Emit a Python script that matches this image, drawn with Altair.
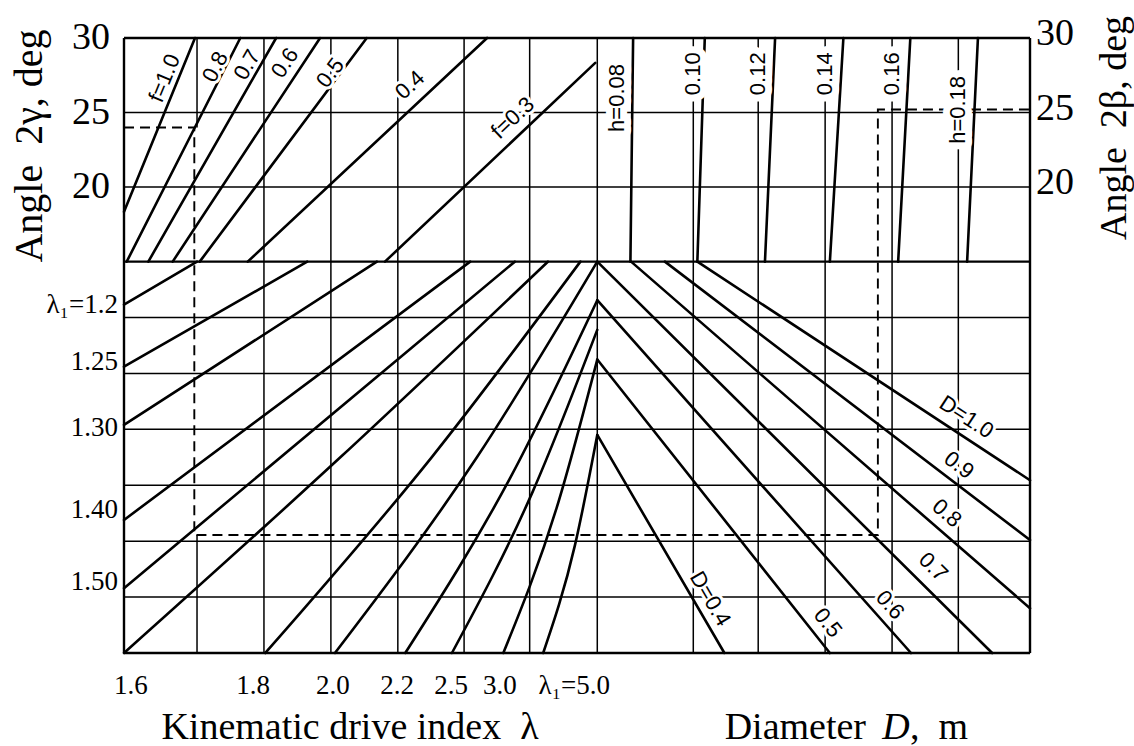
import math
import altair as alt
import pandas as pd

# ---------------------------------------------------------------
# Nomogram laid out in grid units: x = column, y = row.
# Lower block: rows 0..7.  Upper block: angles 15..30 deg on rows 7..11.
# ---------------------------------------------------------------
PLOT_W, PLOT_H = 906, 615
X_MAX, Y_MAX = 13.4, 11.0
SPLIT = 7.0
ANG_LO, ANG_HI = 15.0, 30.0
SX, SY = PLOT_W / X_MAX, PLOT_H / Y_MAX
NB = "\u00a0"  # keeps the wide gaps inside titles


def row(deg):
    """Angle (deg) of the upper block -> grid row."""
    return SPLIT + (deg - ANG_LO) * (Y_MAX - SPLIT) / (ANG_HI - ANG_LO)


# ---- grid ----
lower_rows = [1, 2, 3, 4, 5, 6]
angle_rows = [20, 25]
angle_ticks = [20, 25, 30]
first_col = 1.08
cols = [2.07, 3.06, 4.05, 5.03, 6.0, 7.0, 8.42, 9.38, 10.37, 11.36, 12.34]

# ---- f lines (upper-left): column / angle at upper and lower end ----
f_top_x = [1.05, 1.72, 2.25, 2.90, 3.59, 5.37, 6.97]
f_top_deg = [30, 30, 30, 30, 30, 30, 28.33]
f_bot_x = [0.0, 0.04, 0.36, 0.72, 1.12, 1.83, 3.86]
f_bot_deg = [18.35, 15, 15, 15, 15, 15, 15]
f_text = ["f=1.0", "0.8", "0.7", "0.6", "0.5", "0.4", "f=0.3"]
f_text_x = [0.6, 1.35, 1.82, 2.38, 3.05, 4.23, 5.75]
f_text_deg = [27.3, 28.06, 28.2, 28.33, 27.66, 26.85, 24.64]

# ---- h lines (upper-right) ----
h_top_x = [7.53, 8.59, 9.63, 10.64, 11.63, 12.63]
h_bot_x = [7.49, 8.48, 9.48, 10.44, 11.45, 12.47]
h_text = ["h=0.08", "0.10", "0.12", "0.14", "0.16", "h=0.18"]
h_text_x = [7.29, 8.42, 9.38, 10.37, 11.36, 12.34]
h_text_deg = [25.98, 27.6, 27.6, 27.6, 27.6, 25.18]

# ---- D lines (lower-right) ----
D_x0 = [8.48, 8.0, 7.5, 7.0, 7.0, 7.0, 7.0]
D_y0 = [7.0, 7.0, 7.0, 7.0, 6.31, 5.25, 3.9]
D_x1 = [13.4, 13.4, 13.4, 12.84, 11.64, 10.44, 8.88]
D_y1 = [3.09, 2.02, 0.8, 0, 0, 0, 0]
D_text = ["D=1.0", "0.9", "0.8", "0.7", "0.6", "0.5", "D=0.4"]
D_text_x = [12.46, 12.35, 12.17, 11.97, 11.33, 10.41, 8.67]
D_text_y = [4.22, 3.36, 2.5, 1.54, 0.86, 0.54, 0.97]

# ---- lambda curves (lower-left) ----
lam_x0 = [0, 0, 0, 0, 0, 0, 2.09, 3.12, 4.16, 4.85, 5.61, 6.2]
lam_y0 = [6.23, 5.12, 4.08, 2.38, 1.16, 0, 0, 0, 0, 0, 0, 0]
lam_xm = [None] * 5 + [3.2, 4.55, 5.22, 5.72, 6.05, 6.4, 6.67]
lam_ym = [None] * 5 + [3.5, 3.5, 3.5, 3.15, 2.9, 2.6, 1.93]
lam_x1 = [1.08, 2.71, 3.74, 5.12, 5.78, 6.27, 6.75, 7.0, 7.0, 7.0, 7.0, 7.0]
lam_y1 = [7, 7, 7, 7, 7, 7, 7, 7, 6.31, 5.78, 5.25, 3.9]
lam_left_text = ["λ₁=1.2", "1.25", "1.30", "1.40", "1.50"]
lam_left_y = [6.23, 5.21, 4.03, 2.56, 1.27]
lam_bottom_text = ["1.6", "1.8", "2.0", "2.2", "2.5", "3.0", "λ₁=5.0"]
lam_bottom_x = [0.1, 1.91, 3.09, 4.04, 4.84, 5.56, 6.66]

# ---- worked example (dashed key) ----
key_gamma, key_beta = 24.0, 25.2
key_col_left, key_col_right, key_row = 1.04, 11.15, 2.11


def text_angle(x0, y0, x1, y1):
    a = math.degrees(math.atan2(-(y1 - y0) * SY, (x1 - x0) * SX))
    if a > 90:
        a -= 180
    if a < -90:
        a += 180
    return a % 360


# ---------------- tables ----------------
grid = []
for r in lower_rows:
    grid.append((0, r, X_MAX, r))
for d in angle_rows:
    grid.append((0, row(d), X_MAX, row(d)))
for c in cols:
    grid.append((c, 0, c, Y_MAX))
grid.append((first_col, 0, first_col, key_row))
grid.append((first_col, row(key_gamma), first_col, Y_MAX))
grid_df = pd.DataFrame(grid, columns=["x", "y", "x2", "y2"])

frame_df = pd.DataFrame(
    [(0, 0, X_MAX, 0), (0, Y_MAX, X_MAX, Y_MAX), (0, 0, 0, Y_MAX),
     (X_MAX, 0, X_MAX, Y_MAX), (0, SPLIT, X_MAX, SPLIT)],
    columns=["x", "y", "x2", "y2"])

straight = []
for i in range(len(f_top_x)):
    straight += [("f%d" % i, 0, f_bot_x[i], row(f_bot_deg[i])),
                 ("f%d" % i, 1, f_top_x[i], row(f_top_deg[i]))]
for i in range(len(h_top_x)):
    straight += [("h%d" % i, 0, h_bot_x[i], SPLIT),
                 ("h%d" % i, 1, h_top_x[i], Y_MAX)]
for i in range(len(D_x0)):
    straight += [("D%d" % i, 0, D_x0[i], D_y0[i]),
                 ("D%d" % i, 1, D_x1[i], D_y1[i])]
straight_df = pd.DataFrame(straight, columns=["id", "k", "x", "y"])

curves = []
for i in range(len(lam_x0)):
    pts = [(lam_x0[i], lam_y0[i])]
    if lam_xm[i] is not None:
        pts.append((lam_xm[i], lam_ym[i]))
    pts.append((lam_x1[i], lam_y1[i]))
    for k, (px, py) in enumerate(pts):
        curves.append(("L%d" % i, k, px, py))
curve_df = pd.DataFrame(curves, columns=["id", "k", "x", "y"])

key_df = pd.DataFrame({
    "k": list(range(6)),
    "x": [0, key_col_left, key_col_left, key_col_right, key_col_right, X_MAX],
    "y": [row(key_gamma), row(key_gamma), key_row, key_row,
          row(key_beta), row(key_beta)],
})

side_labels = []
for i, t in enumerate(f_text):
    a = text_angle(f_bot_x[i], row(f_bot_deg[i]), f_top_x[i], row(f_top_deg[i]))
    side_labels.append((t, f_text_x[i], row(f_text_deg[i]), a))
for i, t in enumerate(D_text):
    a = text_angle(D_x0[i], D_y0[i], D_x1[i], D_y1[i])
    side_labels.append((t, D_text_x[i], D_text_y[i], a))
side_df = pd.DataFrame(side_labels, columns=["t", "x", "y", "a"])
h_df = pd.DataFrame({"t": h_text, "x": h_text_x,
                     "y": [row(d) for d in h_text_deg],
                     "a": [270] * len(h_text)})

xs = alt.Scale(domain=[0, X_MAX], nice=False, zero=False)
ys = alt.Scale(domain=[0, Y_MAX], nice=False, zero=False)


def xy():
    return dict(x=alt.X("x:Q", scale=xs, axis=None),
                y=alt.Y("y:Q", scale=ys, axis=None))


grid_layer = alt.Chart(grid_df).mark_rule(color="black", strokeWidth=1.5).encode(
    x2="x2:Q", y2="y2:Q", **xy())
frame_layer = alt.Chart(frame_df).mark_rule(color="black", strokeWidth=2.4).encode(
    x2="x2:Q", y2="y2:Q", **xy())
straight_layer = alt.Chart(straight_df).mark_line(
    color="black", strokeWidth=2.6, strokeCap="round").encode(
    detail="id:N", order="k:Q", **xy())
curve_layer = alt.Chart(curve_df).mark_line(
    color="black", strokeWidth=2.6, interpolate="monotone", strokeCap="round").encode(
    detail="id:N", order="k:Q", **xy())
key_layer = alt.Chart(key_df).mark_line(
    color="black", strokeWidth=1.9, strokeDash=[10, 6]).encode(order="k:Q", **xy())

LABEL_FONT = "Liberation Sans"


def label_layers(df, halo_width):
    enc = dict(text="t:N", angle=alt.Angle("a:Q", scale=None), **xy())
    halo = alt.Chart(df).mark_text(
        font=LABEL_FONT, fontSize=22, color="white", stroke="white",
        strokeWidth=halo_width, strokeJoin="round",
        align="center", baseline="middle").encode(**enc)
    ink = alt.Chart(df).mark_text(
        font=LABEL_FONT, fontSize=22, color="black",
        align="center", baseline="middle").encode(**enc)
    return [halo, ink]


SERIF = "Liberation Serif"
ang_df = pd.DataFrame({"t": [str(a) for a in angle_ticks],
                       "y": [row(a) for a in angle_ticks],
                       "x": [0.0] * len(angle_ticks)})
left_ticks = alt.Chart(ang_df).mark_text(
    font=SERIF, fontSize=38, align="right", baseline="middle", dx=-14, dy=0).encode(
    text="t:N", **xy())
ang_df_r = ang_df.assign(x=X_MAX)
right_ticks = alt.Chart(ang_df_r).mark_text(
    font=SERIF, fontSize=38, align="left", baseline="middle", dx=6, dy=-4).encode(
    text="t:N", **xy())

lam_left_df = pd.DataFrame({"t": lam_left_text, "y": lam_left_y,
                            "x": [0.0] * len(lam_left_text)})
lam_left = alt.Chart(lam_left_df).mark_text(
    font=SERIF, fontSize=27, align="right", baseline="middle", dx=-6).encode(
    text="t:N", **xy())
lam_bot_df = pd.DataFrame({"t": lam_bottom_text, "x": lam_bottom_x,
                           "y": [0.0] * len(lam_bottom_text)})
lam_bottom = alt.Chart(lam_bot_df).mark_text(
    font=SERIF, fontSize=27, align="center", baseline="middle", dy=33).encode(
    text="t:N", **xy())


def title_text(txt, px, py, size=38, angle=0, style="normal", align="center"):
    return alt.Chart(pd.DataFrame({"t": [txt]})).mark_text(
        font=SERIF, fontSize=size, angle=angle, fontStyle=style,
        align=align, baseline="middle").encode(
        text="t:N", x=alt.value(px), y=alt.value(py))


titles = [
    title_text("Angle" + NB + NB + "2γ, deg", -94, 108, size=40, angle=270),
    title_text("Angle" + NB + NB + "2β, deg", 991, 90, angle=270),
    title_text("Kinematic drive index" + NB + NB + "λ", 226, 690),
    title_text("Diameter" + NB, 742, 690, align="right"),
    title_text("D", 772, 690, style="italic"),
    title_text("," + NB + NB + "m", 786, 690, align="left"),
]

chart = alt.layer(
    grid_layer, straight_layer, curve_layer, key_layer, frame_layer,
    *label_layers(h_df, 14), *label_layers(side_df, 6),
    left_ticks, right_ticks, lam_left, lam_bottom, *titles
).properties(
    width=PLOT_W, height=PLOT_H,
    padding={"left": 124, "top": 38, "right": 104, "bottom": 93},
    autosize=alt.AutoSizeParams(type="none"),
).configure_view(stroke="transparent").configure(background="white")

chart.save("out.html", embed_options={"renderer": "svg", "actions": False})
